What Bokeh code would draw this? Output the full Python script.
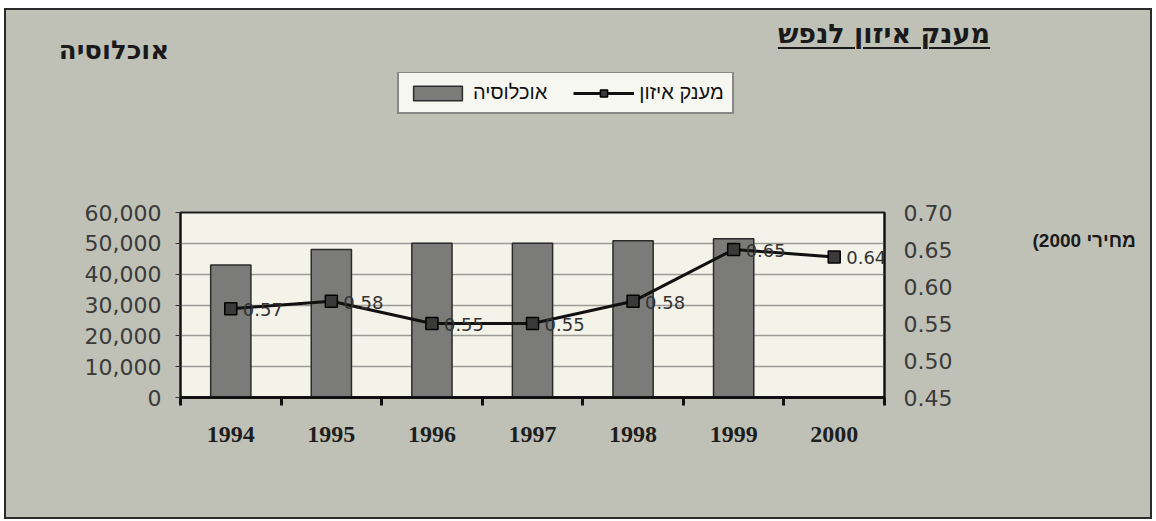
from bokeh.plotting import figure
from bokeh.layouts import column
from bokeh.models import (Range1d, LinearAxis, FixedTicker, NumeralTickFormatter,
                          Legend, LegendItem, Div, ColumnDataSource)
from bokeh.embed import file_html
from bokeh.resources import INLINE
from bokeh.core.properties import value

# ---- data ----
years = ["1994", "1995", "1996", "1997", "1998", "1999", "2000"]
population = [43000, 48000, 50000, 50000, 50800, 51500, None]
grant_per_capita = [0.57, 0.58, 0.55, 0.55, 0.58, 0.65, 0.64]
left_ticks = [0, 10000, 20000, 30000, 40000, 50000, 60000]
right_ticks = [0.45, 0.50, 0.55, 0.60, 0.65, 0.70]

title_text = "מענק איזון לנפש"
left_title = "אוכלוסיה"
right_note = "(2000 מחירי"
bar_name = "אוכלוסיה"
line_name = "מענק איזון"

# ---- derived ----
n = len(years)
xs = [i + 0.5 for i in range(n)]
bar_src = ColumnDataSource(dict(
    x=[x for x, v in zip(xs, population) if v is not None],
    top=[v for v in population if v is not None]))
line_src = ColumnDataSource(dict(x=xs, y=grant_per_capita,
                                 lbl=[f"{v:.2f}" for v in grant_per_capita]))

BG = "#bfc1b6"
FONT = "Liberation Sans"
HFONT = "DejaVu Sans"
NUMFONT = "DejaVu Sans"
W = 1144
TITLE_H = 62
LEG_H = 126
MAIN_H = 319

BAR_STYLE = dict(fill_color="#7b7b79", line_color="#2b2b2b", line_width=1.5)
LINE_STYLE = dict(line_color="#111", line_width=3)
PT_STYLE = dict(marker="square", size=12, fill_color="#3a3a3a", line_color="#000", line_width=1.5)

# ================= header texts =================
head_html = (
    f'<div style="position:relative;width:{W}px;height:{TITLE_H}px;overflow:visible;">'
    f'<span dir="rtl" style="position:absolute;left:878px;top:10px;transform:translateX(-50%);'
    f'white-space:nowrap;font-family:\'{HFONT}\';font-weight:bold;font-size:27px;line-height:1;'
    f'color:#1a1a1a;text-decoration:underline;text-decoration-thickness:2px;'
    f'text-underline-offset:4px;">{title_text}</span>'
    f'<span dir="rtl" style="position:absolute;left:108px;top:27px;transform:translateX(-50%);'
    f'white-space:nowrap;font-family:\'{HFONT}\';font-weight:bold;font-size:26px;line-height:1;'
    f'color:#1a1a1a;">{left_title}</span>'
    f'</div>'
)
head = Div(text=head_html, width=W, height=TITLE_H, margin=0,
           styles={"background-color": BG})

# ================= legend strip =================
pl = figure(width=W, height=LEG_H, x_range=Range1d(0, 1), y_range=Range1d(0, 1),
            output_backend="svg", toolbar_location=None,
            x_axis_location=None, y_axis_location=None, min_border=0,
            background_fill_color=BG, border_fill_color=BG, outline_line_color=None)
pl.grid.visible = False
hb = pl.vbar(x="x", top="top", width=0.4, source=bar_src, visible=False, **BAR_STYLE)
hl = pl.line(x="x", y="y", source=line_src, visible=False, **LINE_STYLE)
hp = pl.scatter(x="x", y="y", source=line_src, visible=False, **PT_STYLE)
legend = Legend(items=[LegendItem(label=bar_name, renderers=[hb]),
                       LegendItem(label=line_name, renderers=[hl, hp])],
                orientation="horizontal", location=(217, 84),
                background_fill_color="#f7f7f2", background_fill_alpha=1,
                border_line_color="#1a1a1a", border_line_width=2,
                label_text_font=FONT, label_text_font_size="20px", label_text_color="#111",
                glyph_width=61, glyph_height=18, label_height=20, spacing=26, padding=8,
                margin=0, label_standoff=5, click_policy="none")
pl.add_layout(legend)

# ================= main chart =================
p = figure(width=W, height=MAIN_H, x_range=Range1d(0, n),
           y_range=Range1d(left_ticks[0], left_ticks[-1]),
           output_backend="svg", toolbar_location=None,
           min_border_left=174, min_border_right=266, min_border_top=14, min_border_bottom=120,
           background_fill_color="#f3f3ea", border_fill_color=BG,
           outline_line_color="#1e1e1e", outline_line_width=2)
p.extra_y_ranges = {"g": Range1d(right_ticks[0], right_ticks[-1])}

p.xgrid.visible = False
p.ygrid.grid_line_color = "#9c9c96"
p.ygrid.grid_line_width = 1.5
p.ygrid.ticker = FixedTicker(ticks=left_ticks)

xa = p.xaxis[0]
xa.ticker = FixedTicker(ticks=xs, minor_ticks=list(range(n + 1)))
xa.major_label_overrides = {x: y for x, y in zip(xs, years)}
xa.major_tick_out = 0
xa.major_tick_in = 0
xa.minor_tick_out = 8
xa.minor_tick_in = 0
xa.minor_tick_line_color = "#111"
xa.minor_tick_line_width = 3
xa.axis_line_color = "#111"
xa.axis_line_width = 3
xa.major_label_standoff = 21
xa.major_label_text_font = "Liberation Serif"
xa.major_label_text_font_style = "bold"
xa.major_label_text_font_size = "24px"
xa.major_label_text_color = "#1e1e1e"

ya = p.yaxis[0]
ya.ticker = FixedTicker(ticks=left_ticks)
ya.formatter = NumeralTickFormatter(format="0,0")
ya.axis_line_color = "#111"
ya.axis_line_width = 2
ya.major_tick_out = 5
ya.major_tick_in = 0
ya.major_tick_line_color = "#333"
ya.minor_tick_line_color = None
ya.major_label_standoff = 14
ya.major_label_text_font = NUMFONT
ya.major_label_text_font_size = "22px"
ya.major_label_text_color = "#3a3a3a"

ra = LinearAxis(y_range_name="g", ticker=FixedTicker(ticks=right_ticks),
                formatter=NumeralTickFormatter(format="0.00"))
ra.axis_line_color = "#111"
ra.axis_line_width = 2
ra.major_tick_out = 0
ra.major_tick_in = 0
ra.minor_tick_line_color = None
ra.major_label_standoff = 19
ra.major_label_text_font = NUMFONT
ra.major_label_text_font_size = "22px"
ra.major_label_text_color = "#3a3a3a"
p.add_layout(ra, "right")

# side note (prices of 2000) shown as a label-only axis on the right
note_level = 0.662
na = LinearAxis(y_range_name="g", ticker=FixedTicker(ticks=[note_level]))
na.major_label_overrides = {note_level: right_note}
na.axis_line_color = None
na.major_tick_line_color = None
na.minor_tick_line_color = None
na.major_label_standoff = 71
na.major_label_text_font = FONT
na.major_label_text_font_style = "bold"
na.major_label_text_font_size = "19px"
na.major_label_text_color = "#1a1a1a"
p.add_layout(na, "right")

bars = p.vbar(x="x", top="top", width=0.4, source=bar_src, **BAR_STYLE)
ln = p.line(x="x", y="y", source=line_src, y_range_name="g", **LINE_STYLE)
pts = p.scatter(x="x", y="y", source=line_src, y_range_name="g", **PT_STYLE)
p.text(x="x", y="y", text="lbl", source=line_src, y_range_name="g", x_offset=12, y_offset=1,
       text_baseline="middle", text_font=value(NUMFONT), text_font_size="18px", text_color="#333")

layout = column(head, pl, p, spacing=0,
                styles={"border": "2px solid #2b2b2b", "margin": "8px 0 0 4px",
                        "background-color": BG})

open("out.html", "w").write(file_html(layout, INLINE))
